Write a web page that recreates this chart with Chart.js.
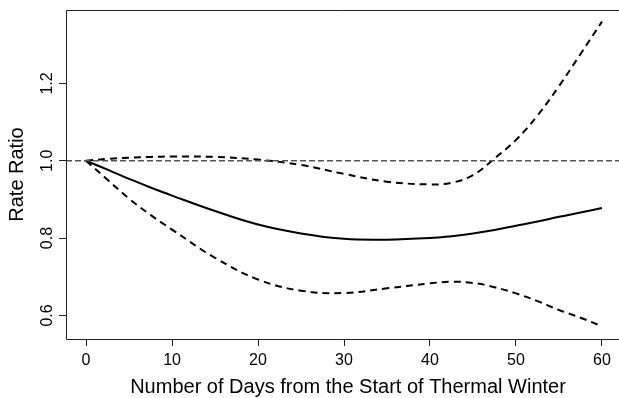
<!DOCTYPE html>
<html>
<head>
<meta charset="utf-8">
<script src="https://cdn.jsdelivr.net/npm/chart.js@4.4.1/dist/chart.umd.min.js"></script>
<style>
  html, body { margin: 0; padding: 0; background: #fff; overflow: hidden; }
  canvas { display: block; }
</style>
</head>
<body>
<canvas id="myChart" width="619" height="398"></canvas>
<script>
// days and the three curves
const days = [0, 2.5, 5, 7.5, 10, 15, 20, 25, 30, 35, 40, 42.5, 45, 47.5, 50, 52.5, 55, 57.5, 60];
const rateRatio = [1.0, 0.977, 0.953, 0.931, 0.91, 0.87, 0.835, 0.812, 0.798, 0.796, 0.8, 0.805, 0.812, 0.821, 0.832, 0.843, 0.855, 0.866, 0.878];
const upperCI = [1.0, 1.005, 1.008, 1.01, 1.011, 1.01, 1.003, 0.989, 0.966, 0.946, 0.939, 0.943, 0.963, 1.006, 1.054, 1.117, 1.193, 1.276, 1.36];
const lowerCI = [1.0, 0.951, 0.902, 0.86, 0.822, 0.749, 0.693, 0.664, 0.658, 0.67, 0.683, 0.687, 0.684, 0.673, 0.657, 0.637, 0.614, 0.594, 0.572];
const refLine = [1.0, 1.0];
const refDays = [-2.33, 61.98];

const xTicks = [0, 10, 20, 30, 40, 50, 60];
const yTicks = [0.6, 0.8, 1.0, 1.2];
const yTickLabels = ["0.6", "0.8", "1.0", "1.2"];

const xTitle = "Number of Days from the Start of Thermal Winter";
const yTitle = "Rate Ratio";

const fontFamily = "'Liberation Sans', Arial, sans-serif";

function toPoints(xs, ys) {
  return xs.map((x, i) => ({ x: x, y: ys[i] }));
}

// box (left, top, bottom), rotated y tick labels and x title like R
const rStyle = {
  id: "rStyle",
  afterDraw(chart) {
    const { ctx, chartArea } = chart;
    const yScale = chart.scales.y;
    ctx.save();
    ctx.strokeStyle = "#222";
    ctx.lineWidth = 1;
    ctx.beginPath();
    ctx.moveTo(chart.width + 2, chartArea.top + 0.5);
    ctx.lineTo(chartArea.left + 0.5, chartArea.top + 0.5);
    ctx.lineTo(chartArea.left + 0.5, chartArea.bottom + 0.5);
    ctx.lineTo(chart.width + 2, chartArea.bottom + 0.5);
    ctx.stroke();

    ctx.fillStyle = "#000";
    ctx.font = "16px " + fontFamily;
    ctx.textAlign = "center";
    ctx.textBaseline = "alphabetic";
    yTicks.forEach((v, i) => {
      const py = yScale.getPixelForValue(v);
      ctx.save();
      ctx.translate(52, py);
      ctx.rotate(-Math.PI / 2);
      ctx.fillText(yTickLabels[i], 0, 0);
      ctx.restore();
    });

    // R centres the title on the full plot region, part of which is cut off
    ctx.font = "20px " + fontFamily;
    ctx.fillText(xTitle, 348, 393);
    ctx.restore();
  },
};

const ctx = document.getElementById("myChart");

new Chart(ctx, {
  type: "line",
  data: {
    datasets: [
      {
        data: toPoints(refDays, refLine),
        borderColor: "#555",
        borderWidth: 1.5,
        borderDash: [6, 3],
        pointRadius: 0,
        tension: 0,
      },
      {
        data: toPoints(days, upperCI),
        borderColor: "#000",
        borderWidth: 2,
        borderDash: [7, 5],
        pointRadius: 0,
        tension: 0.4,
      },
      {
        data: toPoints(days, lowerCI),
        borderColor: "#000",
        borderWidth: 2,
        borderDash: [7, 5],
        pointRadius: 0,
        tension: 0.4,
      },
      {
        data: toPoints(days, rateRatio),
        borderColor: "#000",
        borderWidth: 2,
        pointRadius: 0,
        tension: 0.4,
      },
    ],
  },
  options: {
    responsive: false,
    animation: false,
    layout: { padding: { top: 10, right: 0, left: 0, bottom: 0 } },
    plugins: {
      legend: { display: false },
      tooltip: { enabled: false },
    },
    scales: {
      x: {
        type: "linear",
        min: -2.33,
        max: 61.98,
        afterBuildTicks: (scale) => {
          scale.ticks = xTicks.map((v) => ({ value: v }));
        },
        afterFit: (scale) => {
          scale.height = 59;
        },
        border: { display: false },
        grid: {
          drawOnChartArea: false,
          drawTicks: true,
          tickLength: 7,
          tickColor: "#222",
        },
        ticks: {
          color: "#000",
          padding: 5,
          maxRotation: 0,
          font: { family: fontFamily, size: 16 },
          callback: (v) => String(v),
        },
        title: { display: false },
      },
      y: {
        type: "linear",
        min: 0.539,
        max: 1.39,
        afterBuildTicks: (scale) => {
          scale.ticks = yTicks.map((v) => ({ value: v }));
        },
        afterFit: (scale) => {
          scale.width = 66;
        },
        border: { display: false },
        grid: {
          drawOnChartArea: false,
          drawTicks: true,
          tickLength: 7,
          tickColor: "#222",
        },
        ticks: { display: false },
        title: {
          display: true,
          text: yTitle,
          color: "#000",
          font: { family: fontFamily, size: 20 },
          padding: { top: 5.5, bottom: 0 },
        },
      },
    },
  },
  plugins: [rStyle],
});
</script>
</body>
</html>
